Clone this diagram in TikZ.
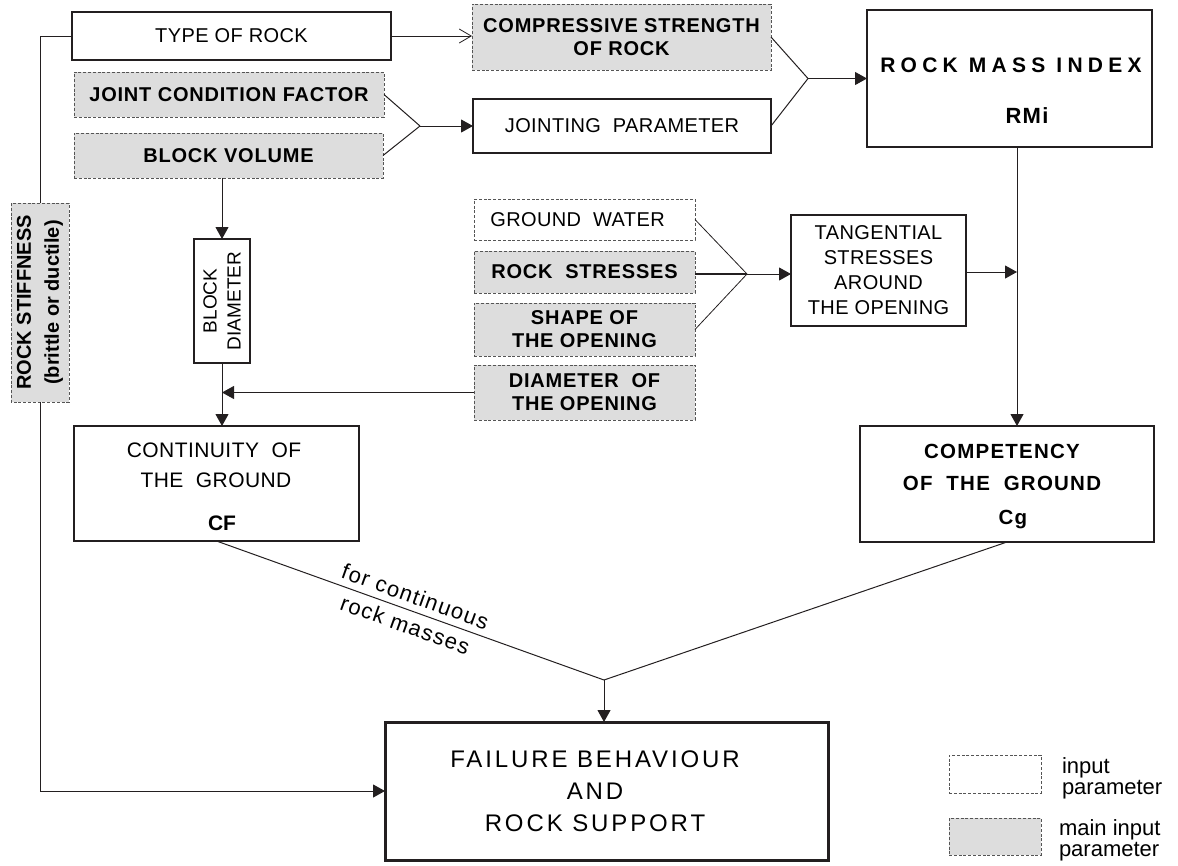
\documentclass[tikz,border=0pt]{standalone}
\usepackage{fontspec}
\setmainfont{Liberation Sans}
\usetikzlibrary{arrows.meta,calc}

\definecolor{ink}{HTML}{231F20}
\definecolor{dashline}{HTML}{555555}
\definecolor{paramfill}{HTML}{DDDDDD}

\tikzset{
  every node/.style={inner sep=0pt, outer sep=0pt, text=black},
  solidbox/.style={draw=ink, line width=1.3pt, fill=white, align=center},
  inputbox/.style={draw=dashline, line width=0.8pt, dash pattern=on 3pt off 1.8pt, fill=white, align=center},
  mainbox/.style={inputbox, fill=paramfill},
  regtxt/.style={font={\fontsize{20}{25}\selectfont\addfontfeature{LetterSpace=2}}},
  regbig/.style={font={\fontsize{21}{25}\selectfont\addfontfeature{LetterSpace=2}}},
  boldtxt/.style={font={\bfseries\fontsize{20}{23}\selectfont\addfontfeature{LetterSpace=4}}},
  cgtxt/.style={font={\bfseries\fontsize{20.5}{25}\selectfont\addfontfeature{LetterSpace=6}}},
  failtxt/.style={font={\fontsize{24}{32}\selectfont\addfontfeature{LetterSpace=12}}},
  keytxt/.style={font={\fontsize{22}{21}\selectfont}, align=left, anchor=west},
  link/.style={draw=ink, line width=1pt},
  arr/.style={link, -{Triangle[length=12pt,width=13pt]}},
  openarr/.style={link, line width=0.8pt, -{Straight Barb[length=12pt,width=14pt]}},
}

\begin{document}
\begin{tikzpicture}[x=1pt,y=-1pt]
\useasboundingbox (0,0) rectangle (1178,865);

% --- rock and jointing inputs ---
\node[solidbox, regtxt, minimum width=319pt, minimum height=48pt] (typ) at (231.5,36) {TYPE OF ROCK};
\node[mainbox, boldtxt, minimum width=310pt, minimum height=45pt] (jcf) at (229,94.5) {JOINT CONDITION FACTOR};
\node[mainbox, boldtxt, minimum width=309pt, minimum height=45pt] (bv) at (228.5,155.5) {BLOCK VOLUME};
\node[mainbox, boldtxt, minimum width=299pt, minimum height=66pt] (cs) at (621.5,37) {COMPRESSIVE STRENGTH\\OF ROCK};
\node[solidbox, regtxt, minimum width=298pt, minimum height=54pt] (jp) at (622,126) {JOINTING~~PARAMETER};

% --- rock mass index ---
\node[solidbox, line width=1.5pt, minimum width=285pt, minimum height=137pt] (rmi) at (1009.5,78.5) {};
\node[anchor=base, font={\bfseries\fontsize{21}{25}\selectfont\addfontfeature{LetterSpace=25}}] (rminame) at (1011,72) {ROCK MASS INDEX};
\node[anchor=base, font={\bfseries\fontsize{22}{25}\selectfont\addfontfeature{LetterSpace=6}}] (rmisym) at (1027,123) {RMi};

% --- vertical boxes ---
\node[mainbox, rotate=90, minimum width=199pt, minimum height=58pt,
      font={\bfseries\fontsize{20}{28}\selectfont}] (stiff) at (40,302.5) {ROCK STIFFNESS\\(brittle or ductile)};
\node[solidbox, rotate=90, minimum width=124pt, minimum height=56pt,
      font={\fontsize{19}{24}\selectfont}] (bd) at (222,301) {BLOCK\\DIAMETER};

% --- opening and stress inputs ---
\node[inputbox, regtxt, minimum width=221pt, minimum height=41pt] (gw) at (584.5,219.5) {GROUND~~WATER\hspace*{14pt}};
\node[mainbox, boldtxt, minimum width=221pt, minimum height=42pt] (rst) at (584.5,272) {ROCK~~STRESSES};
\node[mainbox, boldtxt, minimum width=221pt, minimum height=53pt] (shape) at (584.5,329.5) {SHAPE OF\\THE OPENING};
\node[mainbox, boldtxt, minimum width=221pt, minimum height=55pt] (diam) at (584.5,392.5) {DIAMETER~~OF\\THE OPENING};
\node[solidbox, regtxt, minimum width=175pt, minimum height=111pt] (tang) at (878.5,270.5) {TANGENTIAL\\STRESSES\\AROUND\\THE OPENING};

% --- ground continuity and competency ---
\node[solidbox, minimum width=285pt, minimum height=115pt] (cf) at (216.5,483.5) {};
\node[anchor=base, regbig] (cfa) at (214,457) {CONTINUITY~~OF};
\node[anchor=base, regbig] (cfb) at (216,487) {THE~~GROUND};
\node[anchor=base, font={\bfseries\fontsize{21}{25}\selectfont}] (cfc) at (222,530) {CF};

\node[solidbox, minimum width=294pt, minimum height=116pt] (cg) at (1007,484) {};
\node[anchor=base, cgtxt] (cga) at (1002,458) {COMPETENCY};
\node[anchor=base, cgtxt] (cgb) at (1002,490) {OF~~THE~~GROUND};
\node[anchor=base, cgtxt] (cgc) at (1013,524) {Cg};

% --- result ---
\node[draw=ink, line width=3pt, fill=white, minimum width=443pt, minimum height=138pt] (fail) at (606.5,791) {};
\node[anchor=base, failtxt] (faila) at (595,767) {FAILURE BEHAVIOUR};
\node[anchor=base, failtxt] (failb) at (595,799) {AND};
\node[anchor=base, failtxt] (failc) at (595,831) {ROCK SUPPORT};

% --- key ---
\node[inputbox, minimum width=92pt, minimum height=38pt] (keyin) at (995,774) {};
\node[mainbox, minimum width=92pt, minimum height=37pt] (keymain) at (995,836.5) {};
\node[keytxt] (keyintext) at (1062,778) {input\\parameter};
\node[keytxt] (keymaintext) at (1059,840) {main input\\parameter};

% --- junction points ---
\coordinate (j1) at (420,126);
\coordinate (j3) at (808,78.5);
\coordinate (j2) at (747,274);
\coordinate (jn) at (604,680);
\coordinate (v) at (1017,0);
\coordinate (tj) at (1017,272);

% --- connectors ---
\draw[link] (typ.west) -| (stiff.east);
\draw[arr] (stiff.west) |- (fail.west);
\draw[openarr] (typ.east) -- (typ.east -| cs.west);
\draw[link] (jcf.east) -- (j1);
\draw[link] (bv.east) -- (j1);
\draw[arr] (j1) -- (jp.west);
\draw[link] (cs.east) -- (j3);
\draw[link] (jp.east) -- (j3);
\draw[arr] (j3) -- (rmi.west);
\draw[arr] (rmi.south -| v) -- (cg.north -| v);
\draw[link, line width=0.8pt] (gw.east) -- (j2);
\draw[link, line width=1.3pt] (rst.east |- j2) -- (j2);
\draw[link, line width=0.8pt] (shape.east) -- (j2);
\draw[arr] (j2) -- (j2 -| tang.west);
\draw[arr] (tang.east |- tj) -- (tj);
\draw[arr] (bv.south -| bd.east) -- (bd.east);
\draw[arr] (bd.west) -- (bd.west |- cf.north);
\draw[arr] (diam.west) -- (diam.west -| bd.west);
\draw[link] (cf.south) -- (jn);
\draw[link] (cg.south) -- (jn);
\draw[arr] (jn) -- (jn |- fail.north);
\path (cf.south) -- (jn) node[pos=0.5, sloped, align=center,
      font={\fontsize{22}{30}\selectfont\addfontfeature{LetterSpace=6}}] (note) {for continuous\\rock masses};
\end{tikzpicture}
\end{document}
